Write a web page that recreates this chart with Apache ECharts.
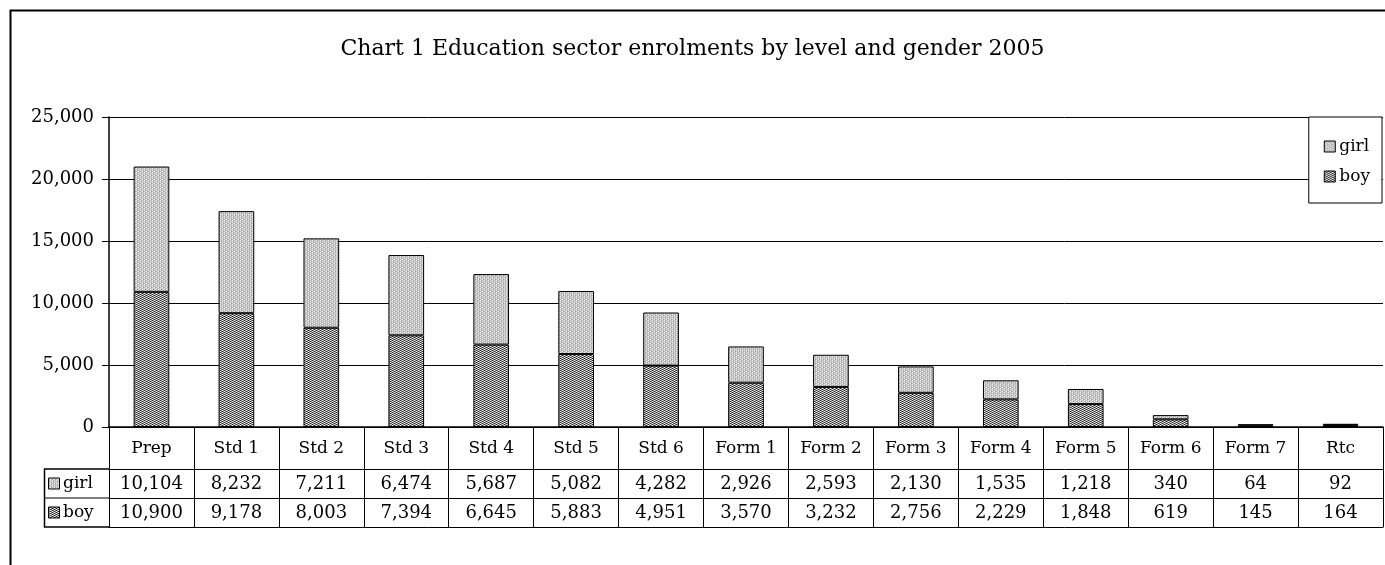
<!DOCTYPE html>
<html><head><meta charset="utf-8">
<script src="https://cdn.jsdelivr.net/npm/echarts@6/dist/echarts.min.js"></script>
<style>html,body{margin:0;padding:0;background:#fff}#c{width:1385px;height:565px}</style>
</head><body><div id="c"></div>
<script>
const categories = ['Prep','Std 1','Std 2','Std 3','Std 4','Std 5','Std 6','Form 1','Form 2','Form 3','Form 4','Form 5','Form 6','Form 7','Rtc'];
const girl = [10104,8232,7211,6474,5687,5082,4282,2926,2593,2130,1535,1218,340,64,92];
const boy  = [10900,9178,8003,7394,6645,5883,4951,3570,3232,2756,2229,1848,619,145,164];
const seriesNames = ['girl','boy'];
const yTicks = [0,5000,10000,15000,20000,25000];
const titleText = 'Chart 1 Education sector enrolments by level and gender 2005';

const FONT = 'DejaVu Serif';
function makePattern(kind){
  const c = document.createElement('canvas');
  c.width = 4; c.height = 4;
  const g = c.getContext('2d');
  if (kind === 'girl') {
    g.fillStyle = '#c0c0c0'; g.fillRect(0,0,4,4);
    g.fillStyle = '#eeeeee'; g.fillRect(0,0,1,1); g.fillRect(0,2,1,1); g.fillRect(2,1,1,1); g.fillRect(2,3,1,1);
    g.fillStyle = '#999999'; g.fillRect(1,1,1,1); g.fillRect(3,3,1,1);
  } else {
    g.fillStyle = '#8a8a8a'; g.fillRect(0,0,4,4);
    g.fillStyle = '#1e1e1e'; g.fillRect(0,0,1,1); g.fillRect(0,2,1,1); g.fillRect(2,1,1,1); g.fillRect(2,3,1,1);
    g.fillStyle = '#ffffff'; g.fillRect(0,1,1,1); g.fillRect(0,3,1,1); g.fillRect(2,0,1,1); g.fillRect(2,2,1,1);
  }
  return c;
}
const girlFill = {image: makePattern('girl'), repeat: 'repeat'};
const boyFill = {image: makePattern('boy'), repeat: 'repeat'};
const fmt = v => v.toLocaleString('en-US');

const chart = echarts.init(document.getElementById('c'), null, {renderer: 'canvas'});
const L = 109, R = 2, TOP = 117, AXY = 427, ROW0 = 42, ROWH = 29;
chart.setOption({
  animation: false,
  backgroundColor: '#fff',
  title: {text: titleText, left: 'center', top: 33,
    textStyle: {fontFamily: FONT, fontSize: 22, fontWeight: 'normal', color: '#000'}},
  legend: {
    orient: 'vertical', right: 3, top: TOP,
    data: [{name: 'girl', itemStyle: {color: girlFill, borderColor: '#000', borderWidth: 1}},
           {name: 'boy', itemStyle: {color: boyFill, borderColor: '#000', borderWidth: 1}}],
    icon: 'rect', itemWidth: 11, itemHeight: 11, itemGap: 13,
    padding: [21, 12, 18, 15],
    borderColor: '#000', borderWidth: 1, backgroundColor: '#fff',
    textStyle: {fontFamily: FONT, fontSize: 17, color: '#000', padding: [0,0,0,-1]}
  },
  grid: {left: L, right: R, top: TOP, bottom: 565 - AXY},
  xAxis: [
    {type: 'category', data: categories, boundaryGap: true,
     axisLine: {lineStyle: {color: '#000', width: 1.5}},
     axisTick: {show: true, interval: 0, length: ROW0 + 2*ROWH, lineStyle: {color: '#000', width: 1}},
     axisLabel: {interval: 0, margin: 13, fontFamily: FONT, fontSize: 17, color: '#000'},
     splitLine: {show: false}},
    {type: 'category', data: categories, position: 'bottom', offset: ROW0,
     axisLine: {lineStyle: {color: '#000', width: 1}}, axisTick: {show: false},
     axisLabel: {interval: 0, margin: 6, fontFamily: FONT, fontSize: 18, color: '#000',
       formatter: (v, i) => fmt(girl[i])}},
    {type: 'category', data: categories, position: 'bottom', offset: ROW0 + ROWH,
     axisLine: {lineStyle: {color: '#000', width: 1}}, axisTick: {show: false},
     axisLabel: {interval: 0, margin: 6, fontFamily: FONT, fontSize: 18, color: '#000',
       formatter: (v, i) => fmt(boy[i])}},
    {type: 'category', data: categories, position: 'bottom', offset: ROW0 + 2*ROWH,
     axisLine: {lineStyle: {color: '#000', width: 1}}, axisTick: {show: false},
     axisLabel: {show: false}}
  ],
  yAxis: {type: 'value', min: yTicks[0], max: yTicks[yTicks.length-1], interval: 5000,
    axisLine: {show: true, lineStyle: {color: '#000', width: 1.5}},
    axisTick: {show: true, length: 7, lineStyle: {color: '#000'}},
    axisLabel: {margin: 15, fontFamily: FONT, fontSize: 18, color: '#000', formatter: v => fmt(v)},
    splitLine: {show: true, lineStyle: {color: '#000', width: 1}}},
  series: [
    {name: 'boy', type: 'bar', stack: 's', data: boy, barWidth: '42%', xAxisIndex: 0,
     itemStyle: {color: boyFill, borderColor: '#000', borderWidth: 1}},
    {name: 'girl', type: 'bar', stack: 's', data: girl, barWidth: '42%', xAxisIndex: 0,
     itemStyle: {color: girlFill, borderColor: '#000', borderWidth: 1}}
  ],
  graphic: [
    {type: 'rect', shape: {x: 10.5, y: 10.5, width: 1400, height: 600}, silent: true, z: -10,
     style: {fill: 'none', stroke: '#000', lineWidth: 2}},
    {type: 'polyline', shape: {points: [[L, AXY+ROW0], [44.5, AXY+ROW0], [44.5, AXY+ROW0+2*ROWH], [L, AXY+ROW0+2*ROWH]]},
     style: {fill: 'none', stroke: '#000', lineWidth: 1.5}},
    {type: 'line', shape: {x1: 44.5, y1: AXY+ROW0+ROWH, x2: L, y2: AXY+ROW0+ROWH}, style: {stroke: '#000', lineWidth: 1}},
    {type: 'rect', shape: {x: 48.5, y: AXY+ROW0+ROWH/2-5.5, width: 11, height: 11},
     style: {fill: girlFill, stroke: '#000', lineWidth: 1}},
    {type: 'text', x: 63, y: AXY+ROW0+ROWH/2, style: {text: seriesNames[0], font: '17px "DejaVu Serif"', fill: '#000', verticalAlign: 'middle'}},
    {type: 'rect', shape: {x: 48.5, y: AXY+ROW0+ROWH*1.5-5.5, width: 11, height: 11},
     style: {fill: boyFill, stroke: '#000', lineWidth: 1}},
    {type: 'text', x: 63, y: AXY+ROW0+ROWH*1.5, style: {text: seriesNames[1], font: '17px "DejaVu Serif"', fill: '#000', verticalAlign: 'middle'}}
  ]
});
</script></body></html>
